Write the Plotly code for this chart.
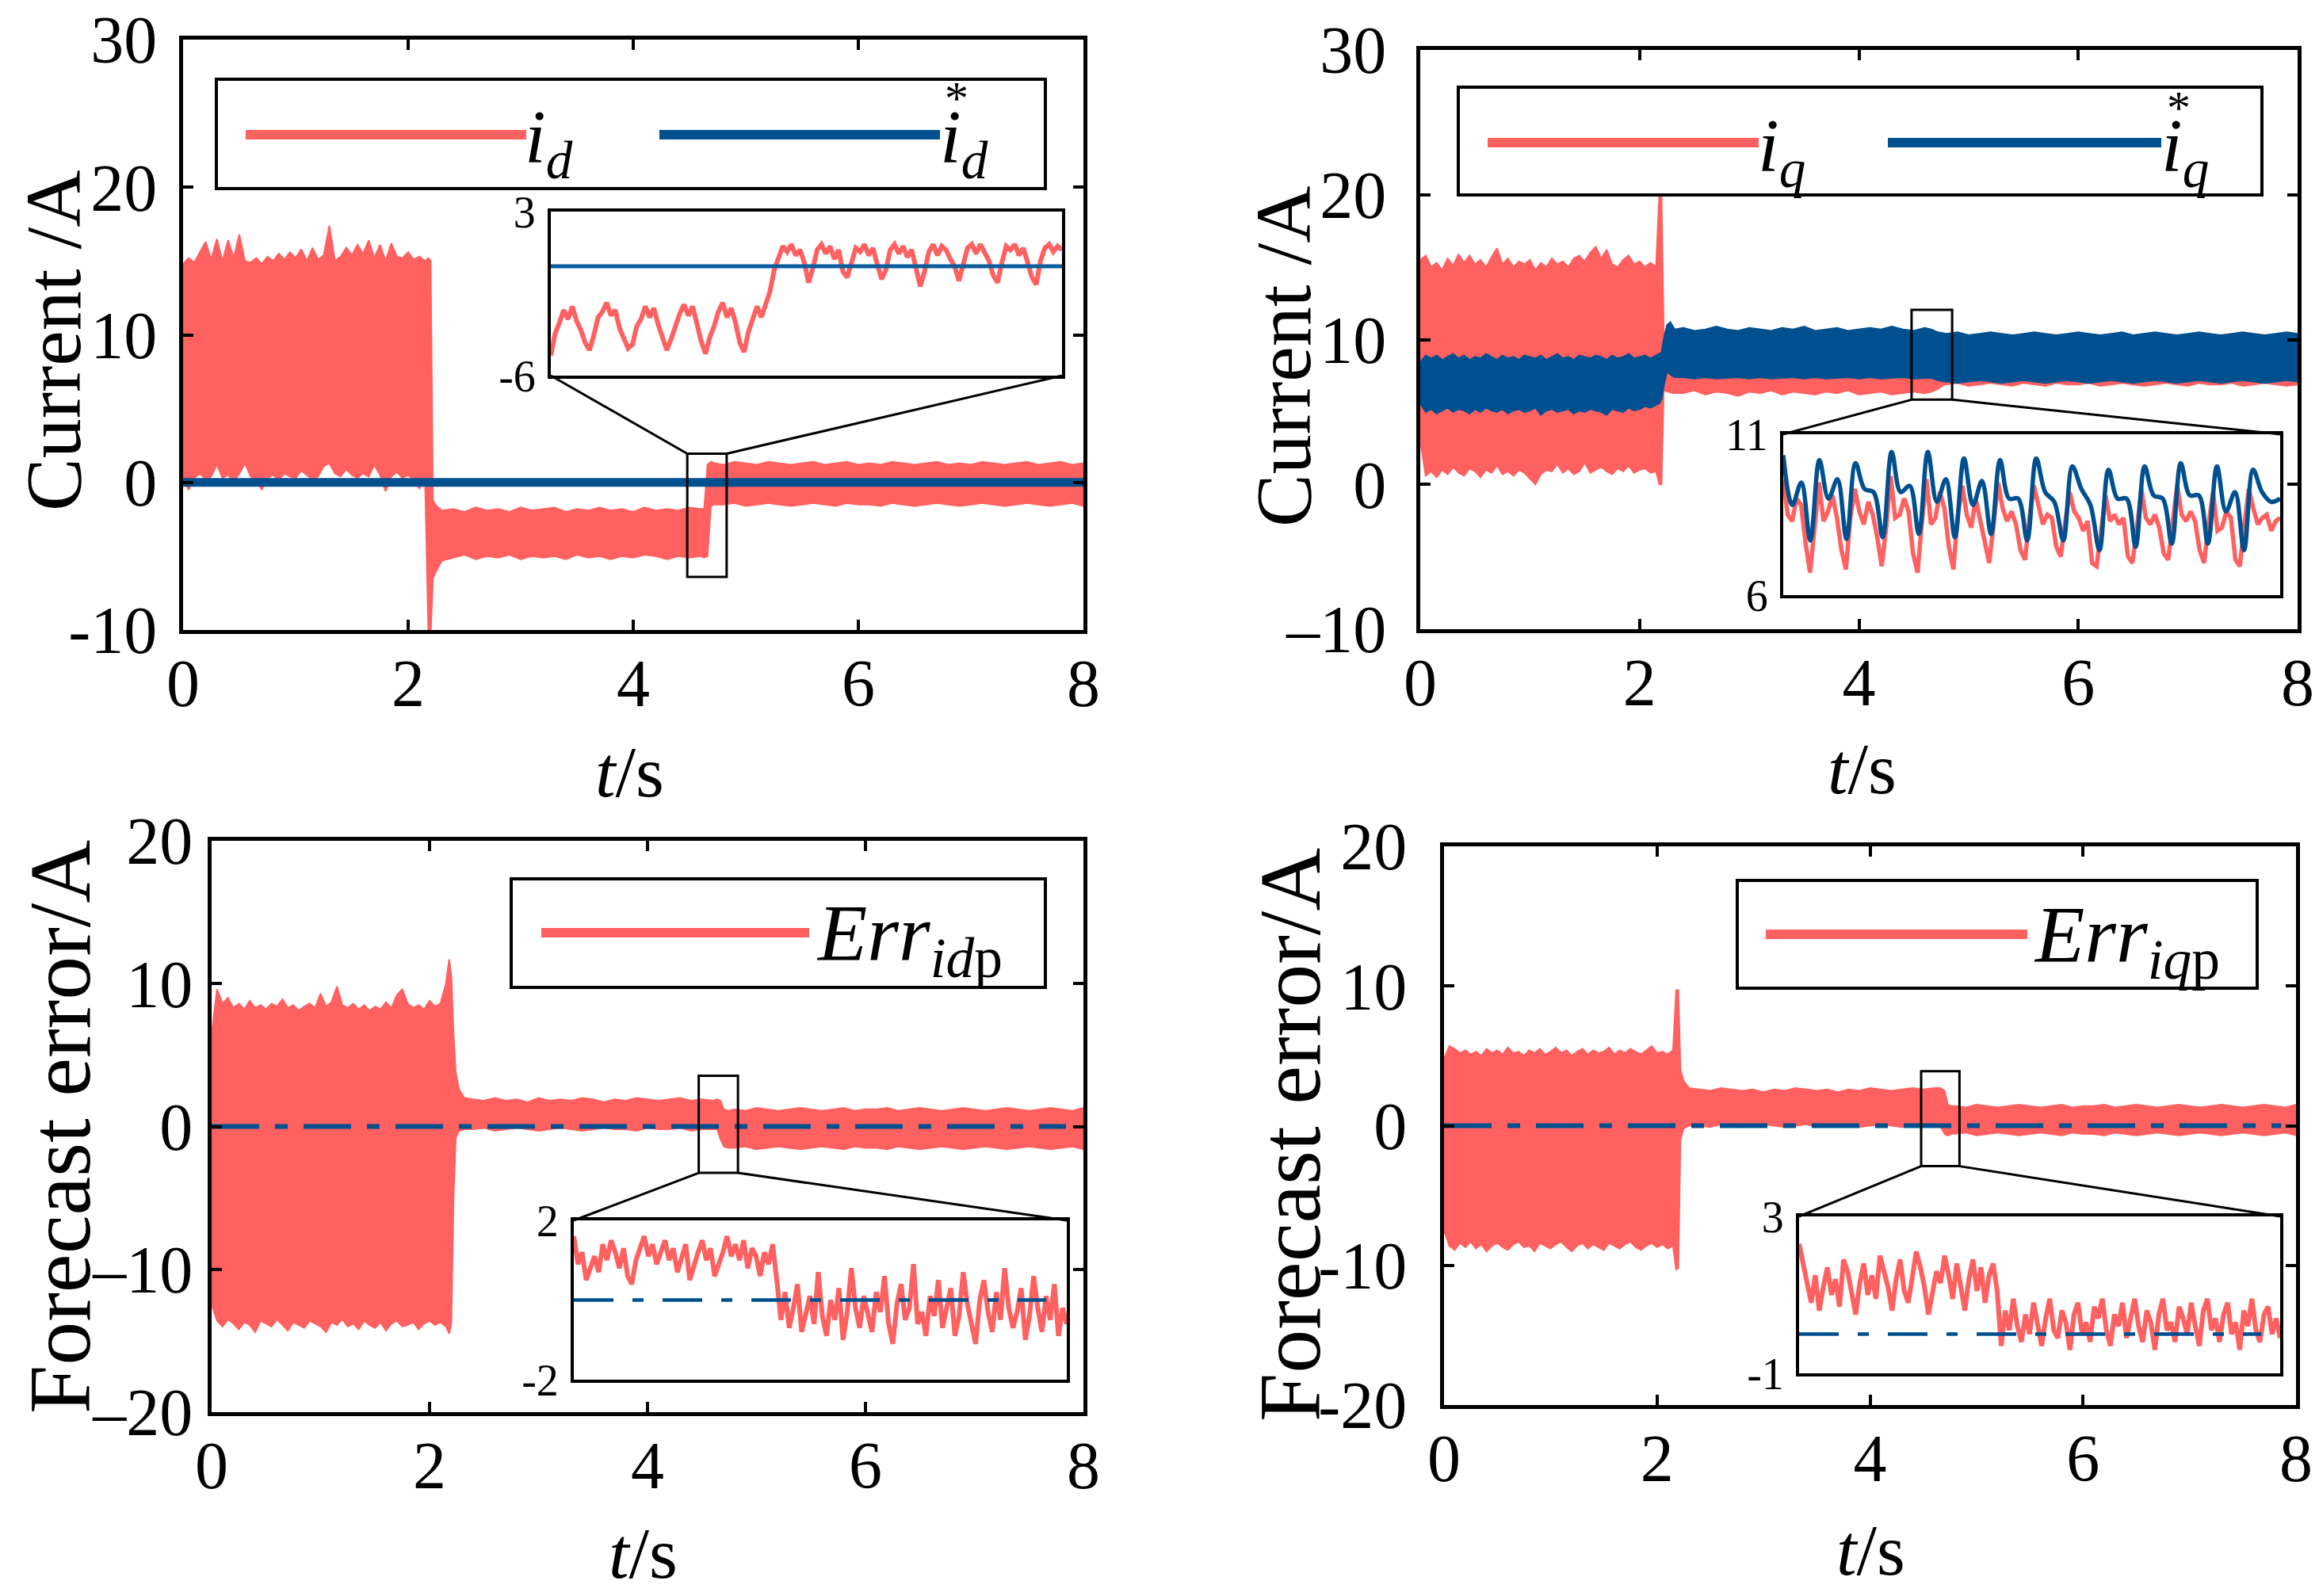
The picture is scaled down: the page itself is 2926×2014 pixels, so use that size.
import numpy as np
import plotly.graph_objects as go

W, H = 2926, 2014
FONT = "Liberation Serif, Times New Roman, serif"
RED = "#FF6060"
BLUE = "#00508F"
BLUE_IN = "#0B5C9C"

# ------------------------------------------------------------------ data
# common time grids (s)
t_a = [round(v, 3) for v in np.arange(0.0, 2.151, 0.05)]   # 0 .. 2.15
t_b = [round(v, 3) for v in np.arange(2.4, 4.601, 0.1)]    # 2.4 .. 4.6
t_c = [round(v, 3) for v in np.arange(4.8, 8.001, 0.1)]    # 4.8 .. 8.0

# ---- i_d (top-left): envelope of the measured current band
id_t = t_a + [2.18, 2.20, 2.22, 2.25, 2.30] + t_b + [4.63, 4.66, 4.69, 4.72] + t_c
id_hi = ([14.8, 15.2, 14.9, 15.6, 16.3, 15.1, 16.5, 15.0, 16.4, 15.2, 16.8, 15.0, 14.9, 15.2, 14.8,
          15.3, 15.0, 15.5, 15.1, 15.6, 15.2, 15.8, 15.0, 15.9, 15.1, 15.4, 17.4, 15.0, 15.3, 15.9,
          15.4, 16.1, 15.5, 16.4, 15.2, 16.1, 15.0, 16.2, 15.3, 15.2, 15.6, 15.1, 15.3, 15.0]
         + [15.2, 15.0, -1.2, -1.6, -1.9]
         + [-1.8, -2.0, -1.7, -1.9, -1.8, -2.0, -1.7, -1.9, -1.8, -1.7, -2.0, -1.8, -1.9, -1.7, -1.9,
            -1.8, -2.0, -1.7, -1.9, -1.8, -1.9, -1.7, -1.8]
         + [-1.8, 1.2, 1.4, 1.3]
         + [1.2, 1.4, 1.3, 1.2, 1.4, 1.3, 1.2, 1.3, 1.4, 1.2, 1.3, 1.4, 1.2, 1.3, 1.2, 1.4, 1.3, 1.2,
            1.3, 1.4, 1.2, 1.3, 1.2, 1.4, 1.3, 1.2, 1.3, 1.4, 1.2, 1.3, 1.4, 1.2, 1.3])
id_lo = ([0.2, -0.5, 0.3, 0.6, 0.2, 0.4, 1.2, 0.3, 0.5, 0.1, 0.6, 1.3, 0.4, 0.2, -0.5, 0.3, 0.5, 0.2,
          0.6, 0.4, 0.3, 0.8, 0.5, 0.2, 0.4, 1.1, 1.3, 0.6, 0.4, 0.9, 0.5, 0.3, 0.6, 0.4, 1.2, 0.5,
          -0.6, 0.4, 0.7, 0.3, 0.5, 0.2, -0.4, 0.3]
         + [-10.3, -10.3, -6.5, -6.0, -5.3]
         + [-5.1, -4.9, -5.2, -5.0, -5.1, -4.9, -5.2, -5.0, -5.1, -5.0, -5.2, -4.9, -5.1, -5.0, -5.2,
            -5.0, -5.1, -4.9, -5.0, -5.2, -5.0, -5.1, -5.0]
         + [-5.1, -5.0, -1.6, -1.5]
         + [-1.5, -1.4, -1.6, -1.5, -1.4, -1.5, -1.6, -1.5, -1.4, -1.5, -1.6, -1.4, -1.5, -1.5, -1.6,
            -1.4, -1.5, -1.6, -1.5, -1.4, -1.5, -1.6, -1.5, -1.4, -1.5, -1.6, -1.5, -1.4, -1.5, -1.6,
            -1.5, -1.4, -1.6])
id_ref_t = [0.0, 8.0]
id_ref = [0.0, 0.0]

# ---- i_q (top-right): measured band and reference band
iq_t = t_a + [2.18, 2.20, 2.22, 2.26, 2.30] + t_b + [4.66, 4.72, 4.78] + t_c
iq_hi = ([15.5, 15.8, 15.0, 15.3, 14.8, 15.6, 15.1, 15.9, 15.3, 15.8, 15.2, 15.5, 15.0, 15.7, 16.3,
          15.2, 15.6, 15.0, 15.4, 15.2, 15.5, 14.8, 15.3, 15.0, 15.6, 15.2, 15.4, 15.0, 15.6, 15.8,
          15.4, 16.0, 16.4, 15.6, 16.2, 15.2, 15.0, 15.5, 15.8, 15.2, 15.4, 15.0, 15.3, 15.0]
         + [20.0, 20.0, 10.5, 10.6, 10.3]
         + [10.3, 10.4, 10.3, 10.2, 10.3, 10.4, 10.3, 10.2, 10.3, 10.4, 10.3, 10.2, 10.3, 10.4, 10.3,
            10.2, 10.3, 10.4, 10.3, 10.2, 10.3, 10.4, 10.3]
         + [10.3, 10.2, 10.2]
         + [10.2, 10.1, 10.2, 10.3, 10.2, 10.1, 10.2, 10.3, 10.2, 10.1, 10.2, 10.3, 10.2, 10.1, 10.2,
            10.3, 10.2, 10.1, 10.2, 10.3, 10.2, 10.1, 10.2, 10.3, 10.2, 10.1, 10.2, 10.3, 10.2, 10.1,
            10.2, 10.3, 10.2])
iq_lo = ([3.0, 0.6, 0.9, 0.5, 1.0, 0.7, 1.2, 0.8, 0.6, 1.1, 0.9, 0.5, 1.0, 0.8, 1.3, 0.7, 0.9, 0.6,
          1.0, 0.8, 0.4, 0.0, 0.7, 1.0, 0.9, 1.4, 0.8, 1.1, 0.7, 0.9, 1.5, 0.8, 1.0, 1.2, 0.9, 0.7,
          1.1, 0.9, 1.3, 0.8, 1.0, 1.1, 0.8, 0.9]
         + [0.0, 0.0, 6.5, 6.4, 6.3]
         + [6.3, 6.5, 6.2, 6.4, 6.3, 6.1, 6.4, 6.3, 6.5, 6.2, 6.4, 6.3, 6.2, 6.4, 6.3, 6.5, 6.2, 6.3,
            6.4, 6.2, 6.3, 6.4, 6.3]
         + [6.4, 6.6, 6.9]
         + [6.9, 7.0, 6.8, 6.9, 7.0, 6.9, 6.8, 7.0, 6.9, 6.8, 7.0, 6.9, 6.9, 7.0, 6.8, 6.9, 7.0, 6.9,
            6.8, 6.9, 7.0, 6.9, 6.8, 7.0, 6.9, 6.9, 7.0, 6.8, 6.9, 7.0, 6.9, 6.8, 6.9])
iqr_t = t_a + [2.18, 2.20, 2.22, 2.25, 2.28, 2.32] + t_b + [4.66, 4.72, 4.78] + t_c
iqr_hi = ([8.4, 8.9, 8.7, 8.9, 8.6, 8.8, 9.0, 8.7, 8.9, 8.6, 8.8, 8.7, 9.0, 8.8, 8.6, 8.9, 8.7, 8.8,
           8.6, 8.9, 8.8, 8.7, 8.9, 8.6, 8.8, 9.0, 8.7, 8.8, 8.6, 8.9, 8.8, 8.7, 8.9, 8.8, 8.6, 8.9,
           8.7, 8.8, 9.0, 8.7, 8.8, 8.9, 8.7, 8.9]
          + [9.0, 9.1, 10.0, 11.0, 11.2, 10.7]
          + [10.8, 10.6, 10.7, 10.9, 10.7, 10.6, 10.8, 10.7, 10.6, 10.8, 10.7, 10.9, 10.6, 10.7, 10.8,
             10.6, 10.7, 10.8, 10.7, 10.9, 10.7, 10.6, 10.8]
          + [10.7, 10.5, 10.4]
          + [10.4, 10.5, 10.3, 10.4, 10.5, 10.4, 10.3, 10.4, 10.5, 10.4, 10.3, 10.4, 10.5, 10.4, 10.3,
             10.4, 10.5, 10.3, 10.4, 10.5, 10.4, 10.3, 10.4, 10.5, 10.4, 10.3, 10.4, 10.5, 10.4, 10.3,
             10.4, 10.5, 10.4])
iqr_lo = ([5.6, 5.0, 5.2, 4.9, 5.1, 5.3, 5.0, 5.2, 5.1, 4.9, 5.2, 5.0, 5.3, 5.1, 5.0, 5.2, 4.9, 5.1,
           5.2, 5.0, 5.1, 5.3, 4.8, 5.1, 5.2, 5.0, 5.1, 5.2, 4.9, 5.1, 5.0, 5.2, 5.1, 5.0, 4.8, 5.2,
           5.1, 5.0, 5.3, 5.1, 5.2, 5.4, 5.3, 5.5]
          + [5.6, 5.9, 6.8, 7.8, 7.6, 7.4]
          + [7.4, 7.3, 7.4, 7.3, 7.35, 7.4, 7.3, 7.4, 7.3, 7.35, 7.4, 7.3, 7.4, 7.3, 7.35, 7.4, 7.3,
             7.4, 7.3, 7.35, 7.4, 7.3, 7.35]
          + [7.35, 7.2, 7.1]
          + [7.1, 7.0, 7.1, 7.2, 7.1, 7.0, 7.1, 7.2, 7.1, 7.0, 7.1, 7.2, 7.1, 7.0, 7.1, 7.2, 7.1, 7.0,
             7.1, 7.2, 7.1, 7.0, 7.1, 7.2, 7.1, 7.0, 7.1, 7.2, 7.1, 7.0, 7.1, 7.2, 7.1])

# ---- Err_idp (bottom-left)
ed_t = t_a + [2.18, 2.20, 2.22, 2.24, 2.27, 2.32] + t_b + [4.64, 4.67, 4.70, 4.74] + t_c
ed_hi = ([6.5, 9.6, 8.6, 9.0, 8.3, 8.6, 8.2, 8.8, 8.3, 8.5, 8.2, 8.6, 8.4, 8.9, 8.3, 8.5, 8.1, 8.4,
          8.6, 8.3, 9.3, 8.4, 8.7, 9.8, 8.5, 8.3, 8.6, 8.2, 8.5, 8.1, 8.4, 8.2, 8.7, 8.3, 9.2, 9.6,
          8.6, 8.3, 8.5, 8.2, 8.8, 8.4, 8.6, 10.0]
         + [11.7, 10.5, 6.5, 3.8, 2.6, 2.0]
         + [1.9, 1.8, 2.0, 1.8, 1.9, 1.7, 2.0, 1.8, 1.9, 1.8, 2.0, 1.9, 1.7, 1.9, 1.8, 2.0, 1.9, 1.8,
            1.9, 2.0, 1.8, 1.9, 1.8]
         + [1.9, 1.8, 1.2, 1.1]
         + [1.2, 1.1, 1.3, 1.2, 1.1, 1.2, 1.3, 1.2, 1.1, 1.2, 1.3, 1.1, 1.2, 1.2, 1.3, 1.1, 1.2, 1.3,
            1.2, 1.1, 1.2, 1.3, 1.2, 1.1, 1.2, 1.3, 1.2, 1.1, 1.2, 1.3, 1.2, 1.1, 1.3])
ed_lo = ([-12.5, -13.6, -14.0, -13.5, -13.8, -14.2, -13.7, -13.9, -14.4, -13.6, -13.8, -14.0, -13.5,
          -13.9, -14.3, -13.7, -13.9, -14.1, -13.6, -13.8, -14.0, -14.4, -13.7, -13.9, -13.5, -14.0,
          -13.8, -14.2, -13.6, -13.9, -14.1, -13.7, -14.3, -13.8, -13.6, -14.0, -13.9, -13.7, -14.2,
          -13.8, -13.6, -13.9, -13.7, -14.0]
         + [-14.5, -13.8, -5.0, -0.8, -0.3, -0.2]
         + [-0.2, -0.1, -0.3, -0.2, -0.1, -0.2, -0.3, -0.2, -0.1, -0.2, -0.3, -0.2, -0.1, -0.2, -0.2,
            -0.3, -0.1, -0.2, -0.2, -0.1, -0.3, -0.2, -0.2]
         + [-0.2, -0.9, -1.4, -1.5]
         + [-1.5, -1.4, -1.6, -1.5, -1.4, -1.5, -1.6, -1.5, -1.4, -1.5, -1.6, -1.4, -1.5, -1.5, -1.6,
            -1.4, -1.5, -1.6, -1.5, -1.4, -1.5, -1.6, -1.5, -1.4, -1.5, -1.6, -1.5, -1.4, -1.5, -1.6,
            -1.5, -1.4, -1.6])
ed_ref_t = [0.0, 7.84]
ed_ref = [0.0, 0.0]

# ---- Err_iqp (bottom-right)
eq_t = t_a + [2.18, 2.20, 2.22, 2.25, 2.30] + t_b + [4.66, 4.70, 4.73, 4.76] + t_c
eq_hi = ([4.8, 5.7, 5.5, 5.2, 5.4, 5.1, 5.3, 5.0, 5.5, 5.2, 5.4, 5.1, 5.6, 5.2, 5.3, 5.0, 5.4, 5.2,
          5.5, 5.1, 5.3, 5.6, 5.2, 5.4, 5.0, 5.3, 5.5, 5.1, 5.4, 5.2, 5.3, 5.6, 5.1, 5.4, 5.2, 5.5,
          5.3, 5.1, 5.4, 5.7, 5.2, 5.3, 5.1, 5.4]
         + [9.7, 9.7, 4.0, 3.2, 2.7]
         + [2.6, 2.5, 2.7, 2.6, 2.5, 2.6, 2.4, 2.6, 2.5, 2.7, 2.6, 2.5, 2.6, 2.4, 2.6, 2.5, 2.7, 2.6,
            2.5, 2.6, 2.7, 2.6, 2.7]
         + [2.7, 2.5, 1.5, 1.4]
         + [1.4, 1.3, 1.5, 1.4, 1.3, 1.4, 1.5, 1.4, 1.3, 1.4, 1.5, 1.3, 1.4, 1.4, 1.5, 1.3, 1.4, 1.5,
            1.4, 1.3, 1.4, 1.5, 1.4, 1.3, 1.4, 1.5, 1.4, 1.3, 1.4, 1.5, 1.4, 1.3, 1.5])
eq_lo = ([-7.5, -8.6, -8.9, -8.4, -8.7, -8.3, -8.8, -8.5, -9.0, -8.6, -8.4, -8.7, -8.9, -8.5, -8.3,
          -8.7, -8.6, -9.0, -8.4, -8.6, -8.8, -8.5, -8.3, -8.7, -9.0, -8.6, -8.4, -8.8, -8.5, -8.7,
          -8.9, -8.4, -8.6, -8.8, -8.5, -8.3, -8.7, -8.9, -8.6, -8.4, -8.7, -8.5, -8.8, -8.6]
         + [-10.3, -10.2, -1.0, -0.2, 0.0]
         + [0.0, -0.1, 0.1, 0.0, -0.1, 0.0, 0.1, 0.0, -0.1, 0.0, 0.1, -0.1, 0.0, 0.0, 0.1, -0.1, 0.0,
            0.1, 0.0, -0.1, 0.0, 0.1, 0.0]
         + [0.0, -0.6, -0.7, -0.6]
         + [-0.6, -0.5, -0.7, -0.6, -0.5, -0.6, -0.7, -0.6, -0.5, -0.6, -0.7, -0.5, -0.6, -0.6, -0.7,
            -0.5, -0.6, -0.7, -0.6, -0.5, -0.6, -0.7, -0.6, -0.5, -0.6, -0.7, -0.6, -0.5, -0.6, -0.7,
            -0.6, -0.5, -0.7])
eq_ref_t = [0.0, 7.86]
eq_ref = [0.0, 0.0]

# ---- inset samples (zoom windows)
ins_id = [-4.9, -3.7, -3.1, -2.4, -2.9, -2.2, -3.0, -3.5, -4.2,
          -4.6, -3.8, -2.8, -2.5, -2.0, -2.7, -2.4, -3.4, -4.0,
          -4.5, -4.3, -3.3, -2.9, -2.2, -2.8, -2.3, -3.2, -3.9,
          -4.6, -4.0, -3.2, -2.6, -2.1, -2.7, -2.2, -3.3, -4.1,
          -4.8, -3.9, -3.3, -2.5, -2.0, -2.8, -2.3, -3.1, -4.2,
          -4.7, -3.6, -2.9, -2.2, -2.8, -2.0,
          -1.4, -0.2, 0.5,
          1.1, 0.8, 1.2, 0.6, 0.9, 0.2, -0.9, -0.1, 0.9,
          1.2, 0.7, 1.1, 0.4, 0.9, -0.3, -0.6, 0.3, 1.0,
          0.8, 1.2, 0.6, 1.0, 0.1, -0.7, -0.2, 0.9, 1.2,
          0.7, 1.1, 0.5, 0.9, -0.1, -1.1, -0.3, 0.8, 1.2,
          0.6, 1.1, 0.9, 0.4, 0.0, -0.8, 0.1, 1.0, 1.2,
          0.7, 1.2, 0.8, 0.3, -0.5, -0.9, 0.2, 1.1, 0.9,
          1.2, 0.6, 1.0, 0.2, -0.6, -1.0, 0.3, 1.0, 1.2,
          0.8, 1.1, 0.9]
ins_id_ref = [0.0, 0.0]

ins_iq = [9.6, 8.5, 8.3, 9.0, 8.8, 7.6, 6.7, 8.2,
          9.5, 8.3, 8.6, 9.1, 8.4, 7.4, 6.8, 8.4,
          9.3, 8.6, 8.2, 8.9, 8.5, 7.8, 6.9, 8.1,
          9.7, 8.4, 8.5, 9.0, 8.6, 7.3, 6.7, 8.3,
          9.6, 8.2, 8.4, 9.2, 8.7, 7.5, 6.8, 8.5,
          9.4, 8.5, 8.1, 9.0, 8.3, 7.6, 7.0, 8.2,
          9.5, 8.7, 8.3, 8.6, 8.2, 7.4, 7.1, 8.4,
          9.4, 8.8, 8.2, 8.5, 8.4, 7.5, 7.2, 8.3,
          9.2, 8.6, 8.4, 8.0, 8.3, 7.0, 6.9, 8.0,
          9.1, 8.3, 8.5, 8.2, 8.4, 7.2, 7.0, 8.1,
          9.3, 8.4, 8.2, 8.5, 8.1, 7.3, 7.1, 8.3,
          9.4, 8.5, 8.3, 8.6, 8.3, 7.4, 7.0, 8.2,
          9.2, 8.0, 8.1, 8.6, 8.4, 7.1, 6.9, 8.2,
          9.3, 8.7, 8.2, 8.4, 8.5, 8.0, 8.3, 8.4]
ins_iq_ref = [10.35, 8.8, 9.5, 7.7,
              10.2, 9.0, 9.6, 7.75,
              10.1, 9.3, 9.2, 7.8,
              10.45, 9.2, 9.4, 7.9,
              10.45, 8.9, 9.6, 7.8,
              10.25, 8.8, 9.55, 7.9,
              10.2, 9.0, 9.0, 7.7,
              10.25, 9.2, 8.9, 7.7,
              10.0, 9.3, 8.8, 7.4,
              9.9, 9.0, 9.0, 7.5,
              10.0, 9.1, 9.0, 7.6,
              10.1, 9.1, 9.1, 7.6,
              10.0, 8.6, 9.2, 7.4,
              9.9, 9.2, 8.9, 9.0]

ins_ed = [1.6, 0.9, 1.2, 0.5, 0.8, 1.1, 0.7, 1.4, 1.0, 1.5, 1.2, 0.8, 1.3, 0.6, 0.4, 1.0, 1.3, 1.6,
          1.1, 1.4, 0.9, 1.2, 1.5, 1.0, 1.3, 0.7, 1.1, 1.4, 0.5, 0.9, 1.2, 1.5, 1.0, 1.3, 0.6, 0.9,
          1.2, 1.6, 1.1, 1.4, 1.0, 1.5, 0.8, 1.3, 1.1, 0.6, 1.2, 0.9, 1.4, 0.5,
          -0.5, 0.2, -0.7, -0.2, 0.4, -0.8, -0.3, 0.1, -0.6, 0.7, -0.4, -0.9, 0.0, -0.5, 0.3, -1.0,
          -0.3, 0.8, -0.2, -0.7, 0.1, -0.4, -0.8, 0.2, -0.3, 0.6, -0.6, -1.1, -0.1, 0.4, -0.5, -0.2,
          0.9, -0.6, -0.3, -0.9, 0.1, -0.4, 0.5, -0.7, -0.2, 0.3, -0.9, -0.4, 0.7, -0.1, -0.6, -1.1,
          0.0, 0.5, -0.3, -0.8, 0.2, -0.5, 0.8, -0.2, -0.7, -0.3, 0.3, -1.0, -0.4, 0.6, -0.2, -0.8,
          0.1, -0.5, 0.4, -0.9, -0.2, -0.6]
ins_ed_ref_t = [4.47, 4.815]
ins_ed_ref = [0.0, 0.0]

ins_eq = [2.3, 1.8, 1.3, 0.8, 1.5, 0.6, 1.2, 1.7, 1.0, 1.4, 0.7, 1.9, 1.6, 1.1, 0.5, 1.3, 1.8, 1.0,
          1.5, 0.9, 2.0, 1.6, 1.2, 0.6, 1.4, 1.9, 1.1, 0.8, 1.5, 2.1, 1.7, 1.2, 0.5, 1.0, 1.6, 1.3,
          2.0, 1.5, 0.9, 1.8, 1.2, 0.6, 1.4, 1.9, 1.1, 1.7, 0.8, 1.5, 1.8, 1.1,
          -0.3, 0.6, 0.1, 0.9, 0.2, -0.2, 0.5, 0.0, 0.8, 0.3, -0.3, 0.4, 0.9, 0.1, -0.1, 0.6, 0.3,
          -0.4, 0.5, 0.8, 0.0, 0.3, -0.2, 0.7, 0.4, 0.9, 0.1, -0.3, 0.5, 0.2, 0.8, -0.1, 0.4, 0.9,
          0.2, -0.2, 0.6, 0.3, -0.4, 0.5, 0.9, 0.1, 0.3, -0.2, 0.7, 0.4, 0.0, 0.8, 0.2, -0.3, 0.6,
          0.9, 0.1, 0.4, -0.2, 0.5, 0.8, 0.0, 0.3, -0.4, 0.6, 0.2, 0.9, 0.1, -0.2, 0.5, 0.7, 0.0,
          0.4, -0.1]
ins_eq_ref_t = [4.48, 4.826]
ins_eq_ref = [0.0, 0.0]

x_ticks = [0, 2, 4, 6, 8]

# ------------------------------------------------------------------ layout geometry (pixels)
def pxx(x):
    return x / W


def pxy(y):
    return 1 - y / H


MAIN = {
    "1": dict(box=(223, 1359, 42, 787), xr=[0, 8], yr=[-10, 30], ystand=11),
    "2": dict(box=(1784, 2891, 55, 786), xr=[0, 8], yr=[-10, 30], ystand=21),
    "3": dict(box=(259, 1359, 1053, 1774), xr=[0, 8], yr=[-20, 20], ystand=2),
    "4": dict(box=(1814, 2889, 1060, 1765), xr=[0, 8], yr=[-20, 20], ystand=25),
}
INSET = {
    "5": dict(box=(687, 1332, 259, 466), xr=[4.48, 4.83], yr=[-6, 3], parent="1",
              rect=(4.48, 4.83, -6.4, 1.95), link="top"),
    "6": dict(box=(2242, 2869, 540, 743), xr=[4.48, 4.85], yr=[6, 11], parent="2",
              rect=(4.48, 4.85, 5.85, 12.05), link="bottom"),
    "7": dict(box=(716, 1338, 1532, 1733), xr=[4.47, 4.83], yr=[-2, 2], parent="3",
              rect=(4.47, 4.83, -3.25, 3.55), link="bottom"),
    "8": dict(box=(2262, 2869, 1527, 1725), xr=[4.48, 4.84], yr=[-1, 3], parent="4",
              rect=(4.48, 4.84, -2.9, 3.9), link="bottom"),
}


def ax_names(k):
    return ("x" if k == "1" else "x" + k), ("y" if k == "1" else "y" + k)


def data_to_px(k, xv, yv):
    d = MAIN[k]
    l, r, t, b = d["box"]
    x = l + (xv - d["xr"][0]) / (d["xr"][1] - d["xr"][0]) * (r - l)
    y = b - (yv - d["yr"][0]) / (d["yr"][1] - d["yr"][0]) * (b - t)
    return x, y


fig = go.Figure()


def band(k, t, hi, lo, color):
    assert len(t) == len(hi) == len(lo), (len(t), len(hi), len(lo))
    xa, ya = ax_names(k)
    fig.add_trace(go.Scatter(x=list(t) + list(t)[::-1], y=list(hi) + list(lo)[::-1],
                             mode="lines", fill="toself", fillcolor=color,
                             line=dict(color=color, width=2), xaxis=xa, yaxis=ya,
                             hoverinfo="skip"))


def line(k, x, y, color, width, dash="solid", shape="linear"):
    xa, ya = ax_names(k)
    fig.add_trace(go.Scatter(x=x, y=y, mode="lines",
                             line=dict(color=color, width=width, dash=dash, shape=shape),
                             xaxis=xa, yaxis=ya, hoverinfo="skip"))


DASHDOT_MAIN = "60px,20px,16px,20px"
DASHDOT_IN = "50px,24px,14px,24px"

band("1", id_t, id_hi, id_lo, RED)
line("1", id_ref_t, id_ref, BLUE, 11)

band("2", iq_t, iq_hi, iq_lo, RED)
band("2", iqr_t, iqr_hi, iqr_lo, BLUE)

band("3", ed_t, ed_hi, ed_lo, RED)
line("3", ed_ref_t, ed_ref, BLUE, 6, DASHDOT_MAIN)

band("4", eq_t, eq_hi, eq_lo, RED)
line("4", eq_ref_t, eq_ref, BLUE, 6, DASHDOT_MAIN)

r5 = INSET["5"]["xr"]
line("5", list(np.linspace(r5[0], r5[1], len(ins_id))), ins_id, RED, 6)
line("5", r5, ins_id_ref, BLUE_IN, 5)

r6 = INSET["6"]["xr"]
line("6", list(np.linspace(r6[0], r6[1], len(ins_iq))), ins_iq, RED, 5.5)
line("6", list(np.linspace(r6[0], r6[1], len(ins_iq_ref))), ins_iq_ref, BLUE, 5.5, shape="spline")

r7 = INSET["7"]["xr"]
line("7", list(np.linspace(r7[0], r7[1], len(ins_ed))), ins_ed, RED, 6)
line("7", ins_ed_ref_t, ins_ed_ref, BLUE, 4.5, DASHDOT_IN)

r8 = INSET["8"]["xr"]
line("8", list(np.linspace(r8[0], r8[1], len(ins_eq))), ins_eq, RED, 6)
line("8", ins_eq_ref_t, ins_eq_ref, BLUE, 4.5, DASHDOT_IN)

# ------------------------------------------------------------------ axes
layout = dict(width=W, height=H, autosize=False, showlegend=False,
              margin=dict(l=0, r=0, t=0, b=0, pad=0, autoexpand=False),
              plot_bgcolor="white", paper_bgcolor="white",
              font=dict(family=FONT, color="black"))

ytick_text = {
    "1": ["-10", "0", "10", "20", "30"],
    "2": ["\u201310", "0", "10", "20", "30"],
    "3": ["\u201320", "\u201310", "0", "10", "20"],
    "4": ["-20", "-10", "0", "10", "20"],
}
for k, d in MAIN.items():
    l, r, t, b = d["box"]
    xa, ya = ax_names(k)
    xkey = "xaxis" if k == "1" else "xaxis" + k
    ykey = "yaxis" if k == "1" else "yaxis" + k
    common = dict(showline=True, linecolor="black", linewidth=5, mirror="ticks",
                  ticks="inside", ticklen=13, tickwidth=4, tickcolor="black",
                  showgrid=False, zeroline=False, automargin=False,
                  ticklabeloverflow="allow",
                  tickfont=dict(family=FONT, size=84, color="black"))
    layout[xkey] = dict(common, domain=[pxx(l), pxx(r)], range=d["xr"], anchor=ya,
                        tickmode="array", tickvals=x_ticks, ticklabelstandoff=-10)
    yv = [d["yr"][0] + i * (d["yr"][1] - d["yr"][0]) / 4 for i in range(5)]
    layout[ykey] = dict(common, domain=[pxy(b), pxy(t)], range=d["yr"], anchor=xa,
                        tickmode="array", tickvals=yv, ticktext=ytick_text[k],
                        ticklabelstandoff=d["ystand"])

inset_ticks = {"5": ["-6", "3"], "6": ["6", "11"], "7": ["-2", "2"], "8": ["-1", "3"]}
for k, d in INSET.items():
    l, r, t, b = d["box"]
    xa, ya = ax_names(k)
    common = dict(showline=True, linecolor="black", linewidth=4, mirror=True,
                  ticks="", showgrid=False, zeroline=False, automargin=False,
                  ticklabeloverflow="allow")
    layout["xaxis" + k] = dict(common, domain=[pxx(l), pxx(r)], range=d["xr"], anchor=ya,
                               showticklabels=False)
    layout["yaxis" + k] = dict(common, domain=[pxy(b), pxy(t)], range=d["yr"], anchor=xa,
                               tickmode="array", tickvals=d["yr"], ticktext=inset_ticks[k],
                               tickfont=dict(family=FONT, size=56, color="black"),
                               ticklabelstandoff=4)

shapes = []
annotations = []

for k, d in INSET.items():
    p = d["parent"]
    xa, ya = ax_names(p)
    x0, x1, y0, y1 = d["rect"]
    shapes.append(dict(type="rect", xref=xa, yref=ya, x0=x0, x1=x1, y0=y0, y1=y1,
                       line=dict(color="black", width=3), layer="above"))
    l, r, t, b = d["box"]
    if d["link"] == "top":
        ax0, ay0 = data_to_px(p, x0, y1)
        ax1, ay1 = data_to_px(p, x1, y1)
        targets = [(l, b), (r, b)]
    else:
        ax0, ay0 = data_to_px(p, x0, y0)
        ax1, ay1 = data_to_px(p, x1, y0)
        targets = [(l, t), (r, t)]
    for (sx, sy), (tx, ty) in zip([(ax0, ay0), (ax1, ay1)], targets):
        shapes.append(dict(type="line", xref="paper", yref="paper",
                           x0=pxx(sx), y0=pxy(sy), x1=pxx(tx), y1=pxy(ty),
                           line=dict(color="black", width=3), layer="above"))

LEG_BOXES = [(265, 1311, 92, 230), (1832, 2846, 102, 238), (637, 1311, 1101, 1238),
             (2184, 2840, 1103, 1239)]
for (l, r, t, b) in LEG_BOXES:
    shapes.append(dict(type="rect", xref="paper", yref="paper", x0=pxx(l), x1=pxx(r),
                       y0=pxy(b), y1=pxy(t), line=dict(color="black", width=4)))

LEG_LINES = [(302, 656, 162, RED), (824, 1178, 162, BLUE), (1869, 2211, 172, RED),
             (2374, 2719, 172, BLUE), (675, 1013, 1169, RED), (2220, 2550, 1171, RED)]
for (x0, x1, y, c) in LEG_LINES:
    shapes.append(dict(type="line", xref="paper", yref="paper", x0=pxx(x0), x1=pxx(x1),
                       y0=pxy(y), y1=pxy(y), line=dict(color=c, width=12)))


def ann(text, x, y, size, xanchor="left", yanchor="middle", angle=0):
    annotations.append(dict(text=text, x=pxx(x), y=pxy(y), xref="paper", yref="paper",
                            showarrow=False, xanchor=xanchor, yanchor=yanchor,
                            textangle=angle, font=dict(family=FONT, size=size, color="black")))


LEG_FS = 96
ann("<i>i</i><sub><i>d</i></sub>", 652, 172, LEG_FS)
ann("<i>i</i><sub><i>d</i></sub>", 1176, 172, LEG_FS)
ann("*", 1182, 116, 60)
ann("<i>i</i><sub><i>q</i></sub>", 2208, 182, LEG_FS)
ann("<i>i</i><sub><i>q</i></sub>", 2717, 182, LEG_FS)
ann("*", 2724, 128, 60)
ann("<i>Err</i><sub><i>id</i>p</sub>", 1020, 1176, 102)
ann("<i>Err</i><sub><i>iq</i>p</sub>", 2556, 1178, 102)

ann("Current /A", 60, 422, 100, "center", "middle", -90)
ann("Current /A", 1612, 442, 100, "center", "middle", -90)
ann("Forecast error/A", 68, 1414, 110, "center", "middle", -90)
ann("Forecast error/A", 1620, 1424, 110, "center", "middle", -90)
ann("<i>t</i>/s", 786, 966, 92, "center", "middle")
ann("<i>t</i>/s", 2341, 962, 92, "center", "middle")
ann("<i>t</i>/s", 804, 1952, 92, "center", "middle")
ann("<i>t</i>/s", 2352, 1948, 92, "center", "middle")

layout["shapes"] = shapes
layout["annotations"] = annotations
fig.update_layout(**layout)
fig.write_html("out.html")
